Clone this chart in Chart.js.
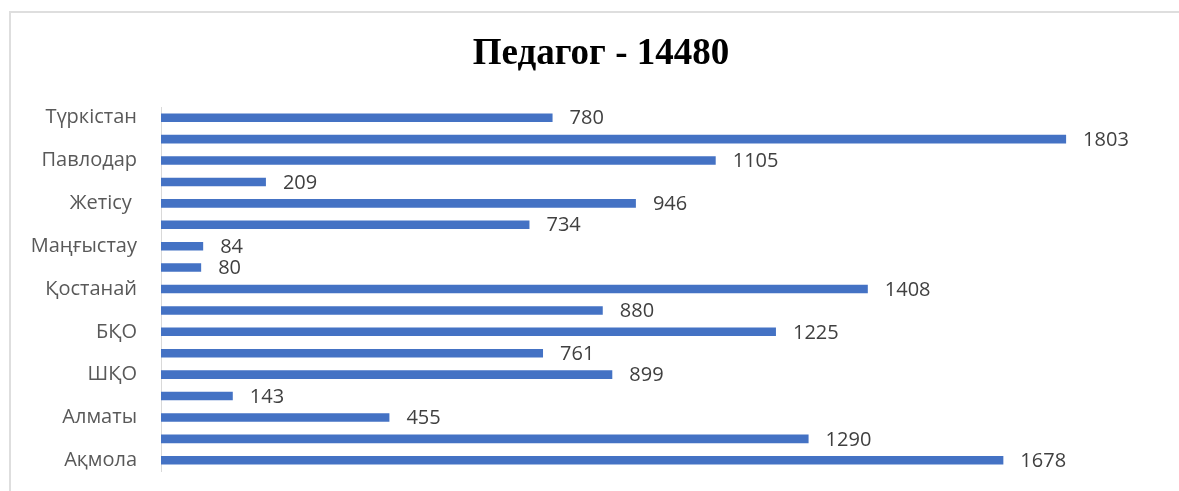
<!DOCTYPE html>
<html>
<head>
<meta charset="utf-8">
<script src="https://cdn.jsdelivr.net/npm/chart.js@4"></script>
<style>
  html, body { margin: 0; padding: 0; background: #fff; }
  #wrap { position: relative; width: 1179px; height: 491px; overflow: hidden; }
  #frame { position: absolute; left: 9px; top: 11px; width: 1300px; height: 600px;
           border-left: 2px solid #dedede; border-top: 2px solid #dedede; }
  canvas { position: absolute; left: 0; top: 0; }
</style>
</head>
<body>
<div id="wrap">
  <div id="frame"></div>
  <canvas id="myChart" width="1179" height="491"></canvas>
</div>
<script>
// categories, top to bottom (unlabelled rows are skipped in the original)
const regions = ['Түркістан', '', 'Павлодар', '', 'Жетісу ', '', 'Маңғыстау', '',
  'Қостанай', '', 'БҚО', '', 'ШҚО', '', 'Алматы', '', 'Ақмола']
const teachers = [780, 1803, 1105, 209, 946, 734, 84, 80,
  1408, 880, 1225, 761, 899, 143, 455, 1290, 1678]
const chartTitle = 'Педагог - 14480'

// title centred like the original, value labels at the end of each bar
const barLabels = {
  id: 'barLabels',
  afterDatasetsDraw(chart) {
    const ctx = chart.ctx
    const meta = chart.getDatasetMeta(0)
    ctx.save()
    ctx.font = 'bold 37px "Liberation Serif"'
    ctx.fillStyle = '#000'
    ctx.textAlign = 'center'
    ctx.textBaseline = 'middle'
    ctx.fillText(chartTitle, 601, 54)

    ctx.font = '20px "Open Sans"'
    ctx.fillStyle = '#404040'
    ctx.textAlign = 'left'
    meta.data.forEach(function (bar, i) {
      ctx.fillText(String(teachers[i]), bar.x + 17, bar.y + 1)
    })
    ctx.restore()
  }
}

var ctx = document.getElementById('myChart').getContext('2d')
var chart = new Chart(ctx, {
  type: 'bar',
  data: {
    labels: regions,
    datasets: [{
      data: teachers,
      backgroundColor: '#4472C4',
      borderWidth: 0,
      categoryPercentage: 1,
      barPercentage: 0.4
    }]
  },
  options: {
    indexAxis: 'y',
    responsive: false,
    animation: false,
    layout: { padding: { top: 107, right: 14, bottom: 20, left: 0 } },
    plugins: {
      legend: { display: false },
      tooltip: { enabled: false },
      title: { display: false }
    },
    scales: {
      x: { display: false, min: 0, max: 2000 },
      y: {
        afterFit(scale) {
          scale.width = 161
          scale.paddingTop = 0
          scale.paddingBottom = 0
        },
        grid: { display: false, drawTicks: false },
        border: { display: true, color: '#d9d9d9', width: 1 },
        ticks: {
          autoSkip: false,
          padding: 24,
          color: '#595959',
          font: { family: '"Open Sans"', size: 20 }
        }
      }
    }
  },
  plugins: [barLabels]
})
</script>
</body>
</html>
